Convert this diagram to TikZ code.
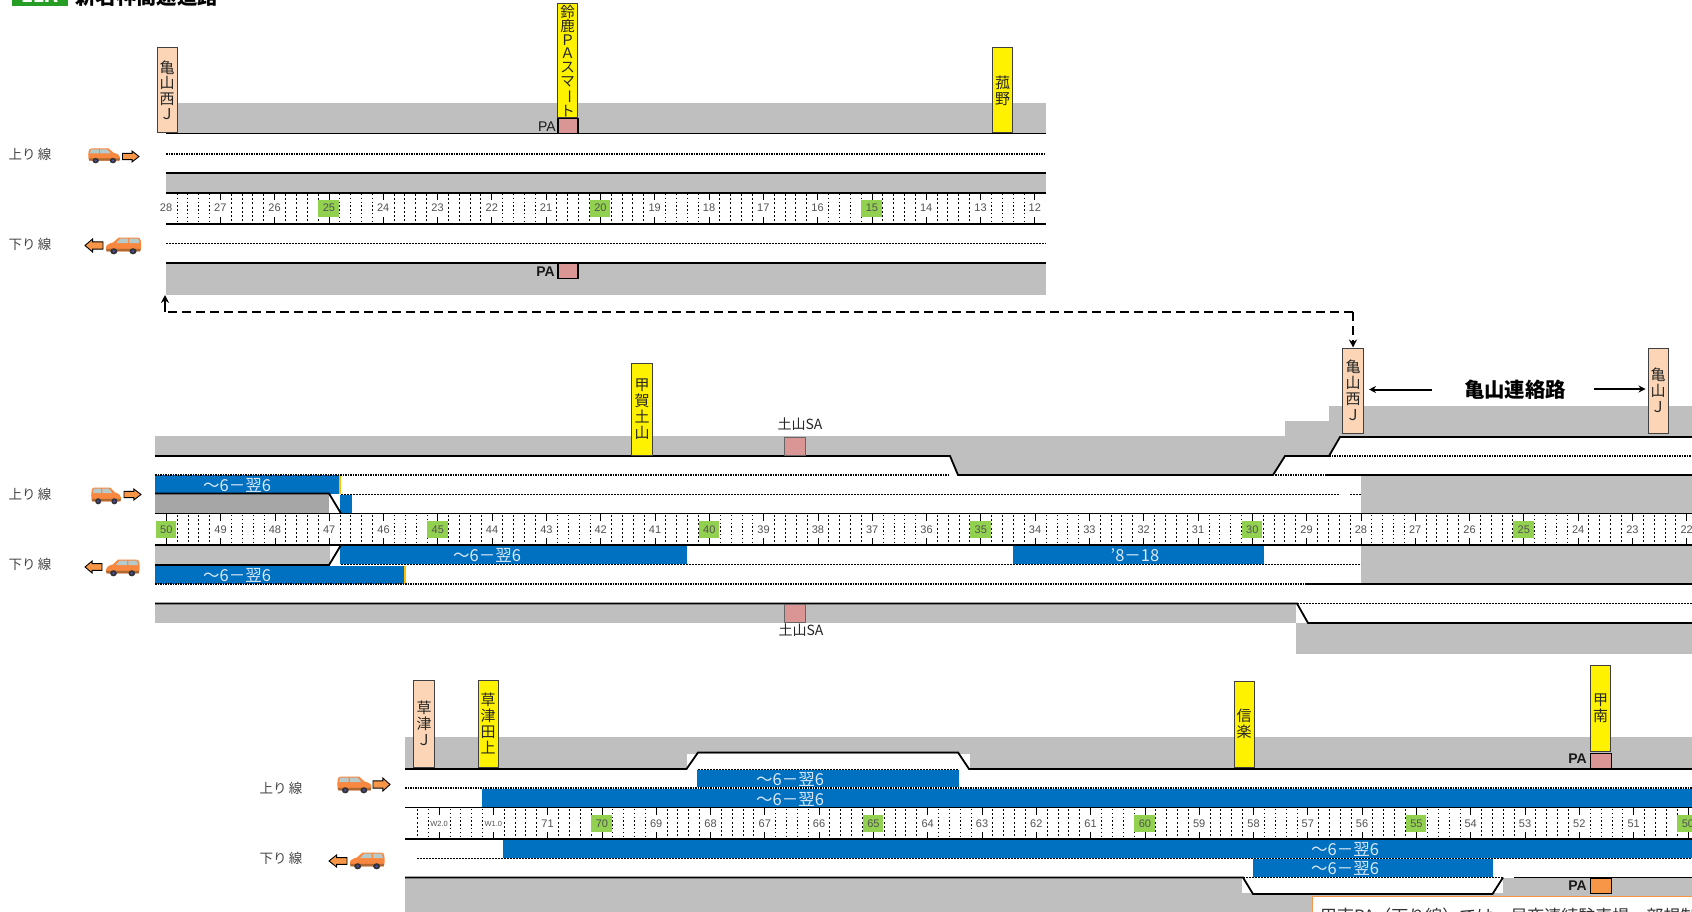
\documentclass[tikz,border=0pt]{standalone}
\usepackage{fontspec}
\setmainfont{Noto Sans CJK JP}
\newfontfamily\latinf{Liberation Sans}
\usetikzlibrary{arrows.meta}
\definecolor{roadgray}{HTML}{BFBFBF}
\definecolor{darkgray2}{HTML}{A6A6A6}
\definecolor{laneblue}{HTML}{0070C0}
\definecolor{kmgreen}{HTML}{92D050}
\definecolor{peachj}{HTML}{FBD5B5}
\definecolor{pinkpa}{HTML}{D99694}
\definecolor{orangepa}{HTML}{F79646}
\definecolor{amberend}{HTML}{FFC000}
\definecolor{bluetext}{HTML}{DCE9F5}
\definecolor{carglass}{HTML}{B5CBCB}
\tikzset{
  rdline/.style={line width=1.8pt,black},
  bolddot/.style={line width=1.5pt,black,dash pattern=on 1.5pt off 1pt},
  thindash/.style={line width=.8pt,black,dash pattern=on 2pt off 1pt},
  grayfill/.style={fill=roadgray,draw=none},
  bluefill/.style={fill=laneblue,draw=none},
  vbox/.style={draw=black!75,line width=1pt,inner sep=0pt,align=center,text=black!85,
     font=\fontsize{15}{16}\selectfont,minimum width=20pt},
  jctbox/.style={vbox,fill=peachj},
  icbox/.style={vbox,fill=yellow},
  pabox/.style={draw=black,line width=1.9pt,fill=pinkpa,minimum width=20pt,minimum height=15pt,inner sep=0pt},
  sabox/.style={draw=black!60,line width=.7pt,fill=pinkpa,minimum width=21pt,minimum height=18pt,inner sep=0pt},
  dirlabel/.style={font=\fontsize{13.5}{14}\selectfont,text=black!72,inner sep=0pt},
  timelabel/.style={font=\fontsize{16.5}{17}\selectfont,text=bluetext,inner sep=0pt},
  kmlabel/.style={font=\latinf\fontsize{11}{12}\selectfont,text=black!68,inner sep=0pt},
  palabel/.style={font=\latinf\bfseries\fontsize{14}{15}\selectfont,text=black!90,inner sep=0pt},
  salabel/.style={font=\fontsize{14}{15}\selectfont,text=black!85,inner sep=0pt},
  heavydots/.style={line width=1pt,black,dash pattern=on 2pt off 2.2pt},
  lightdots/.style={line width=.6pt,black,dash pattern=on 1.4pt off 2.4pt},
  kmtick/.style={line width=.8pt,black}
}
% car drawn in a box; x1>x2 flips it
\newcommand\carbox[4]{%
  \begin{scope}[shift={(#1,#2)},xscale={(#3-#1)/100},yscale={(#4-#2)/100}]
    \fill[orangepa!90!red] (2,22) .. controls (3,8) and (6,3) .. (12,3) -- (64,3) -- (80,32)
       .. controls (92,38) and (100,48) .. (100,62) -- (98,84) -- (4,84) .. controls (0,60) and (0,40) .. (2,22);
    \fill[orangepa!70!black] (2,70) -- (100,70) -- (98,84) -- (4,84) -- cycle;
    \fill[carglass] (9,9) -- (34,9) -- (34,36) -- (6,36) -- cycle;
    \fill[carglass] (38,9) -- (60,9) -- (71,36) -- (38,36) -- cycle;
    \fill[black!80] (24,84) ellipse [x radius=10,y radius=18];
    \fill[black!80] (78,84) ellipse [x radius=10,y radius=18];
    \fill[blue!40!gray] (24,84) ellipse [x radius=4,y radius=8];
    \fill[blue!40!gray] (78,84) ellipse [x radius=4,y radius=8];
  \end{scope}}
\newcommand\arrowbox[4]{%
  \begin{scope}[shift={(#1,#2)},xscale={(#3-#1)/100},yscale={(#4-#2)/100}]
    \draw[fill=orangepa,draw=black,line width=.9pt] (0,22) -- (58,22) -- (58,0) -- (100,50) -- (58,100) -- (58,78) -- (0,78) -- cycle;
  \end{scope}}
% km strip: #1 x of first tick, #2 first km, #3 number of spans, #4 y top, #5 y bottom
\newcommand\kmstrip[5]{%
  \foreach \n in {0,...,#3}{%
    \pgfmathsetmacro\xx{#1+\n*54.3}
    \pgfmathtruncatemacro\lab{#2-\n}
    \pgfmathtruncatemacro\mm{mod(\lab,5)}
    \pgfmathtruncatemacro\vv{mod(\lab,3)}
    \ifnum\mm=0
      \fill[kmgreen] (\xx-10.5,#4+7) rectangle (\xx+10,#5-7);
    \fi
    \ifnum\n<#3
    \foreach \m in {1,2,3,4}{%
      \ifnum\vv=1
        \draw[lightdots] ({\xx+\m*10.86},#4+1) -- ({\xx+\m*10.86},#5-2);
      \else
        \draw[heavydots] ({\xx+\m*10.86},#4+1) -- ({\xx+\m*10.86},#5-2);
      \fi}
    \fi
    \draw[kmtick] (\xx,#4) -- (\xx,#4+7);
    \draw[kmtick] (\xx,#5-7) -- (\xx,#5);
  }}
\newcommand\kmlabels[5]{% x first, km first, spans, y center, prefix
  \foreach \n in {0,...,#3}{%
    \pgfmathsetmacro\xx{#1+\n*54.3}
    \pgfmathtruncatemacro\lab{#2-\n}
    \node[kmlabel] (km#5\lab) at (\xx,#4) {\lab};
  }}
\begin{document}
\begin{tikzpicture}[x=1pt,y=-1pt]
\useasboundingbox (0,0) rectangle (1692,912);
\clip (0,0) rectangle (1692,912);
\fill[white] (0,0) rectangle (1692,912);

% ---- header
\fill[green!55!black!85!white] (12,-20) rectangle (68,6.5);
\node[inner sep=0pt,text=white,font=\bfseries\fontsize{19}{19}\selectfont] (badge) at (40,-4.5) {E1A};
\node[inner sep=0pt,anchor=west,font=\bfseries\fontsize{20.4}{21}\selectfont] (title) at (75,-3) {新名神高速道路};

% ---- panel 1
\fill[grayfill] (166,103) rectangle (1046,133.5);
\fill[grayfill] (166,173) rectangle (1046,193);
\fill[grayfill] (166,263) rectangle (1046,295);
\draw[rdline] (166,133.5) -- (1046,133.5);
\draw[bolddot] (166,154) -- (1046,154);
\draw[rdline] (166,173) -- (1046,173);
\draw[rdline] (166,193) -- (1046,193);
\draw[rdline] (166,224) -- (1046,224);
\draw[thindash] (166,243) -- (1046,243);
\draw[rdline] (166,263) -- (1046,263);
\kmstrip{166}{28}{16}{193}{224}
\fill[white] (160,194) rectangle (172,223);
\kmlabels{166}{28}{16}{208}{a}

\node[jctbox,minimum height=85pt,font=\fontsize{15}{15.5}\selectfont] (kwest1) at (167,90.5) {亀\\山\\西\\Ｊ};
\node[icbox,minimum height=114pt,font=\fontsize{14.5}{13.7}\selectfont] (suzuka) at (567.5,61) {鈴\\鹿\\Ｐ\\Ａ\\ス\\マ\\\rotatebox[origin=c]{-90}{ー}\\ト};
\node[pabox] (pa1u) at (568,126) {};
\node[palabel,font=\latinf\fontsize{14}{15}\selectfont,anchor=east] (pa1ut) at (556,127) {PA};
\node[icbox,minimum height=85pt] (arano) at (1002.5,90.5) {菰\\野};
\node[pabox] (pa1d) at (568,271) {};
\node[palabel,anchor=east] (pa1dt) at (555,272) {PA};

\node[dirlabel] (up1) at (30,154) {上り\,線};
\node[dirlabel] (dn1) at (30,244) {下り\,線};
\carbox{88}{148}{120}{163}
\arrowbox{122.5}{151}{139}{162}
\arrowbox{103}{239}{85}{252}
\carbox{141.5}{237}{106}{254}

% ---- panel 2
\fill[grayfill] (155,436) -- (1285,436) -- (1285,421) -- (1329,421) -- (1329,406) -- (1692,406) -- (1692,437)
   -- (1340,437) -- (1329,456) -- (1285,456) -- (1273,475) -- (958,475) -- (950,456) -- (155,456) -- cycle;
\fill[grayfill] (1361,476) rectangle (1692,513);
\fill[grayfill] (1361,546) rectangle (1692,583);
\fill[darkgray2] (155,494) rectangle (329,513);
\fill[grayfill] (155,546) rectangle (330,565);
\fill[grayfill] (155,604) rectangle (1296,623);
\fill[grayfill] (1296,623) rectangle (1692,654);
% blue works
\fill[bluefill] (155,475) rectangle (339,493.5);
\fill[amberend] (338.5,475) rectangle (341,493.5);
\fill[bluefill] (340,495) rectangle (352,513);
\fill[bluefill] (340,546) rectangle (687,564);
\fill[bluefill] (155,566) rectangle (406,584);
\fill[amberend] (403.5,566) rectangle (406,584);
\fill[bluefill] (1013,546) rectangle (1263.5,564);
% lines
\draw[rdline] (155,456) -- (950,456) -- (958,475) -- (1273,475) -- (1285,456) -- (1329,456) -- (1340,437) -- (1692,437);
\draw[bolddot] (155,475) -- (950,475);
\draw[bolddot] (1275,475) -- (1327,475);
\draw[rdline] (1327,475) -- (1692,475);
\draw[bolddot] (1329,456) -- (1692,456);
\draw[rdline] (155,493.5) -- (329,493.5) -- (341,513.5);
\draw[thindash] (341,494) -- (1340,494);
\draw[thindash] (1350,494) -- (1361,494);
\draw[rdline] (155,513.5) -- (1692,513.5);
\draw[rdline] (155,545) -- (1692,545);
\draw[rdline] (155,565) -- (329,565) -- (341,545);
\draw[thindash] (341,564.5) -- (1361,564.5);
\draw[bolddot] (155,584) -- (1306,584);
\draw[rdline] (1306,584) -- (1692,584);
\draw[rdline] (155,603.5) -- (1297,603.5) -- (1308,623) -- (1692,623);
\draw[thindash] (1297,603.5) -- (1692,603.5);
\kmstrip{166.3}{50}{28}{514}{545}
\kmlabels{166.3}{50}{28}{529.5}{b}
\node[timelabel] (t1) at (237,485) {～6－翌6};
\node[timelabel] (t2) at (487,555) {～6－翌6};
\node[timelabel] (t3) at (237,575) {～6－翌6};
\node[timelabel,text=bluetext] (t4) at (1135,555) {'8－18};

\node[icbox,minimum height=92pt,minimum width=21pt] (koka) at (642,409) {甲\\賀\\土\\山};
\node[sabox] (sa2u) at (795,446.5) {};
\node[salabel] (sa2ut) at (800,424) {土山SA};
\node[sabox] (sa2d) at (795,613.5) {};
\node[salabel] (sa2dt) at (801,630) {土山SA};
\node[jctbox,minimum height=85pt,minimum width=21pt] (kwest2) at (1353,390.5) {亀\\山\\西\\Ｊ};
\node[jctbox,minimum height=85pt,minimum width=20pt] (kame) at (1658,390.5) {亀\\山\\Ｊ};
\node[inner sep=0pt,font=\bfseries\fontsize{20.4}{21}\selectfont] (renraku) at (1515,390) {亀山連絡路};
\coordinate (renL) at (1432,389.5);
\coordinate (renR) at (1594,389);
\draw[line width=2pt,-{Stealth[length=7pt,width=7pt]},shorten >=5pt] (renL) -- (kwest2.east |- renL);
\draw[line width=2pt,-{Stealth[length=7pt,width=7pt]},shorten >=2pt] (renR) -- (kame.west |- renR);

\node[dirlabel] (up2) at (30,494) {上り\,線};
\node[dirlabel] (dn2) at (30,564) {下り\,線};
\carbox{91}{487}{121}{504}
\arrowbox{124}{489}{141}{500}
\arrowbox{102}{561}{85}{573}
\carbox{140}{559}{106}{576}

% dashed link between panels
\coordinate (linkUp) at (165,295);
\coordinate (linkCorner) at (165,312);
\draw[line width=2.6pt,dash pattern=on 9pt off 5pt] (kwest2.north |- linkCorner) -- (linkCorner);
\draw[line width=2.6pt,-{Stealth[length=8pt,width=8pt]}] (linkCorner) -- (linkUp);
\draw[line width=2.6pt,dash pattern=on 9pt off 5pt,-{Stealth[length=8pt,width=8pt]}] (kwest2.north |- linkCorner) -- (kwest2.north);

% ---- panel 3
\fill[grayfill] (405,737) rectangle (1692,769);
\fill[white] (687,754) rectangle (970,770);
\fill[grayfill] (405,877.5) rectangle (1692,912);
\fill[white] (1242,877) rectangle (1503,893);
\fill[bluefill] (697,769.5) rectangle (959,787);
\fill[bluefill] (482,789) rectangle (1692,807);
\fill[bluefill] (503,840) rectangle (1692,858);
\fill[bluefill] (1253,859) rectangle (1493,877);
\draw[rdline] (405,769) -- (686.5,769) -- (698,752.5) -- (958,752.5) -- (969,769) -- (1692,769);
\draw[thindash] (698,769) -- (958,769);
\draw[bolddot] (405,788) -- (1692,788);
\draw[rdline] (405,807.5) -- (1692,807.5);
\draw[rdline] (405,839) -- (1692,839);
\draw[thindash] (417,858.5) -- (1692,858.5);
\draw[rdline] (405,877.5) -- (1243,877.5) -- (1253,894) -- (1492.5,894) -- (1503,877.5);
\draw[rdline] (1514,877.5) -- (1692,877.5);
\draw[thindash] (1243,877.5) -- (1503,877.5);
\draw[heavydots] (417,809) -- (417,837);
\draw[lightdots] (428,809) -- (428,837);
\kmstrip{439}{73}{23}{808}{839}
\foreach \k/\lbl/\nm in {439/W2.0/w2,493.3/W1.0/w1}{%
  \node[kmlabel,fill=white,inner sep=.5pt,font=\latinf\fontsize{7.5}{8}\selectfont] (km\nm) at (\k,823.5) {\lbl};}
\kmlabels{547.6}{71}{21}{823.5}{c}
\node[timelabel] (t5) at (790,779) {～6－翌6};
\node[timelabel] (t6) at (790,799) {～6－翌6};
\node[timelabel] (t7) at (1345,849) {～6－翌6};
\node[timelabel] (t8) at (1345,868) {～6－翌6};

\node[jctbox,minimum height=87pt,minimum width=21pt] (kusatsu) at (424,723.5) {草\\津\\Ｊ};
\node[icbox,minimum height=87pt] (tagami) at (488,723.5) {草\\津\\田\\上};
\node[icbox,minimum height=86pt] (shigaraki) at (1244,724) {信\\楽};
\node[icbox,minimum height=86pt] (konan) at (1600.5,708) {甲\\南};
\node[pabox,minimum width=21pt] (pa3u) at (1601,761) {};
\node[palabel,anchor=east] (pa3ut) at (1587,759) {PA};
\node[pabox,fill=orangepa,minimum width=21pt] (pa3d) at (1601,886) {};
\node[palabel,anchor=east] (pa3dt) at (1587,886) {PA};

\node[dirlabel] (up3) at (281,788) {上り\,線};
\node[dirlabel] (dn3) at (281,858) {下り\,線};
\carbox{337}{776}{371.4}{793}
\arrowbox{373}{778}{390}{791}
\arrowbox{347}{855}{329}{867}
\carbox{385}{852}{350}{869}

% note box (cut by the page edge)
\draw[draw=orangepa,line width=1.5pt,fill=white] (1312.5,896.5) rectangle (1720,940);
\node[anchor=west,inner sep=0pt,font=\fontsize{17}{18}\selectfont,text=black!80] (note) at (1320,916) {甲南PA（下り線）では、昼夜連続駐車場一部規制};
\end{tikzpicture}
\end{document}
